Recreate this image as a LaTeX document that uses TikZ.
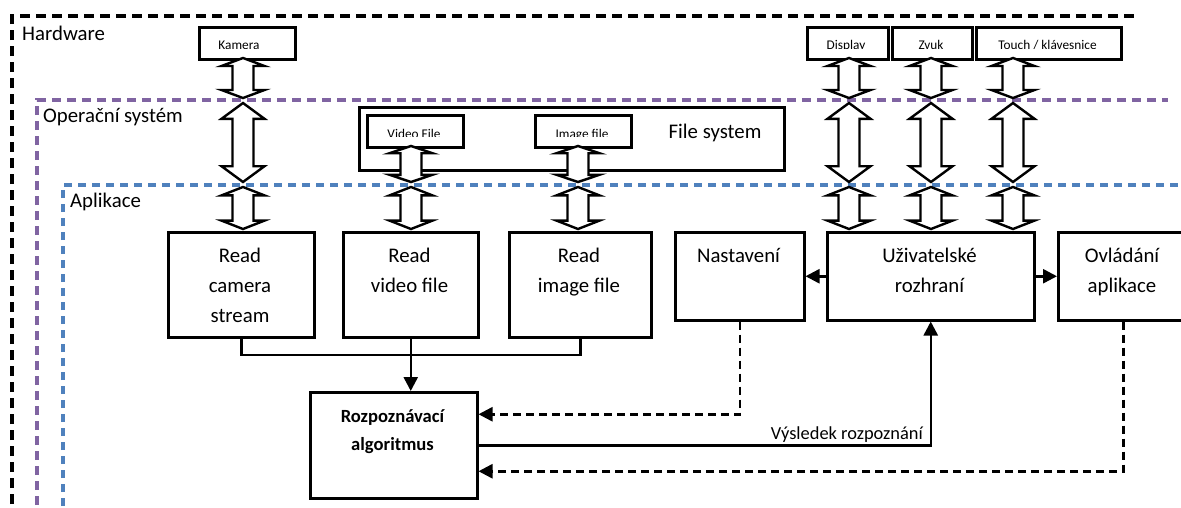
\documentclass[tikz,border=0pt]{standalone}
\usepackage{fontspec}
\setmainfont{Carlito}
\usetikzlibrary{arrows.meta}
\definecolor{ospurple}{RGB}{128,100,162}
\definecolor{appblue}{RGB}{79,129,189}
\tikzset{
  box/.style={draw, line width=2.5pt, fill=white, inner sep=0pt, anchor=north west},
  big/.style={font=\fontsize{20.8}{30}\selectfont, inner sep=0pt, align=center, anchor=base},
  bigbold/.style={font=\bfseries\fontsize{18.6}{28}\selectfont, inner sep=0pt, align=center, anchor=base},
  small/.style={font=\fontsize{13.3}{16}\selectfont, inner sep=0pt, anchor=base},
  layer/.style={font=\fontsize{20.8}{25}\selectfont, inner sep=0pt, anchor=base west},
  result/.style={font=\fontsize{18.4}{22}\selectfont, inner sep=0pt, anchor=base east},
  hwframe/.style={draw=black, line width=3.2pt, dash pattern=on 10pt off 6pt},
  osframe/.style={draw=ospurple, line width=3.2pt, dash pattern=on 9pt off 6pt},
  appframe/.style={draw=appblue, line width=3.2pt, dash pattern=on 8pt off 6pt},
  blockarr/.style={draw=black, line width=2.4pt, fill=white, line join=miter},
  conn/.style={draw=black, line width=2.5pt},
  arr/.style={conn, -{Triangle[length=14pt,width=14pt]}},
  darr/.style={arr, dash pattern=on 8pt off 5pt},
}
% vertical two-headed block arrow: x, top y, bottom y
\newcommand\blockud[3]{%
  \pgfmathsetmacro\hl{0.2*(#3-#2)}%
  \draw[blockarr] (#1,#2) -- (#1+21.5,#2+\hl) -- (#1+10.5,#2+\hl) -- (#1+10.5,#3-\hl)
    -- (#1+21.5,#3-\hl) -- (#1,#3) -- (#1-21.5,#3-\hl) -- (#1-10.5,#3-\hl)
    -- (#1-10.5,#2+\hl) -- (#1-21.5,#2+\hl) -- cycle;}
\begin{document}
\begin{tikzpicture}[x=1pt, y=-1pt]
\useasboundingbox (0,0) rectangle (1181,507);
\clip (0,0) rectangle (1181,507);

% layer frames
\draw[hwframe] (12,520) -- (12,16) -- (1140,16);
\draw[osframe] (37,520) -- (37,100) -- (1168,100);
\draw[appframe] (63,520) -- (63,185) -- (1190,185);
\node[layer] (lhw) at (22,40) {Hardware};
\node[layer] (los) at (43,122) {Operační systém};
\node[layer] (lapp) at (70,207) {Aplikace};

% hardware devices
\node[box, minimum width=96, minimum height=32] (kam) at (198,26) {};
\node[box, minimum width=81, minimum height=32] (dis) at (806,26) {};
\node[box, minimum width=80, minimum height=32] (zvu) at (891,26) {};
\node[box, minimum width=145, minimum height=32] (tch) at (975,26) {};
\begin{scope}
  \clip (0,0) rectangle (1181,48);
  \node[small] (tkam) at (239,49.6) {Kamera};
  \node[small] (tdis) at (846,49.6) {Display};
  \node[small] (tzvu) at (931,49.6) {Zvuk};
  \node[small] (ttch) at (1047.5,49.6) {Touch / klávesnice};
\end{scope}

% file system
\node[box, minimum width=425, minimum height=63] (fs) at (358,106) {};
\node[big] (tfs) at (715,138) {File system};
\node[box, minimum width=96, minimum height=32] (vf) at (366,114) {};
\node[box, minimum width=96, minimum height=32] (imf) at (534,114) {};
\begin{scope}
  \clip (0,100) rectangle (1181,136.7);
  \node[small] (tvf) at (414,138.6) {Video File};
  \node[small] (timf) at (582,138.6) {Image file};
\end{scope}

% application blocks (multi-line text is placed by its last baseline)
\node[box, minimum width=146, minimum height=105] (rcs) at (167,231) {};
\node[box, minimum width=135, minimum height=105] (rvf) at (342,231) {};
\node[box, minimum width=142, minimum height=105] (rif) at (508,231) {};
\node[big] (trcs) at (240,322) {Read\\camera\\stream};
\node[big] (trvf) at (409.5,292) {Read\\video file};
\node[big] (trif) at (579,292) {Read\\image file};

\node[box, minimum width=129, minimum height=88] (nas) at (674,231) {};
\node[box, minimum width=207, minimum height=88] (uzi) at (826,231) {};
\node[box, minimum width=130, minimum height=88] (ova) at (1057,231) {};
\node[big] (tnas) at (738.5,262) {Nastavení};
\node[big] (tuzi) at (929.5,292) {Uživatelské\\rozhraní};
\node[big] (tova) at (1122,292) {Ovládání\\aplikace};

\node[box, minimum width=167, minimum height=106] (rz) at (309,391) {};
\node[bigbold] (trz) at (392.5,450) {Rozpoznávací\\algoritmus};

% block arrows between layers
\foreach \ax in {243,849,931,1013} {
  \blockud{\ax}{58}{98}
  \blockud{\ax}{103}{182}
}
\foreach \ax in {411,578} {
  \blockud{\ax}{146}{182}
}
\foreach \ax in {243,411,578,849,931,1013} {
  \blockud{\ax}{187}{229}
}

% data flow
\coordinate (join) at (409.5,355);
\draw[conn] (rcs.south) |- (join) -| (rif.south);
\draw[arr] (rvf.south) -- (rvf.south |- rz.north);
\draw[arr] (uzi.west) -- (nas.east);
\draw[arr] (uzi.east) -- (ova.west);
\coordinate (setin) at ([yshift=31pt]rz.east);
\coordinate (ctlin) at ([yshift=-26pt]rz.east);
\draw[darr] (nas.south) |- (setin);
\draw[darr] (ova.south) |- (ctlin);
\draw[arr] (rz.east) -| (uzi.south);
\node[result] (tres) at (923,439) {Výsledek rozpoznání};
\end{tikzpicture}
\end{document}
